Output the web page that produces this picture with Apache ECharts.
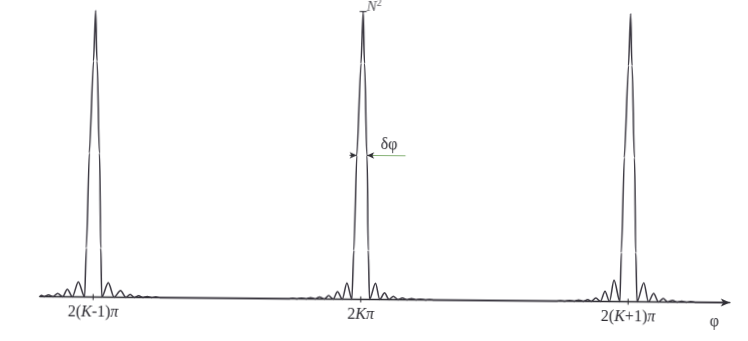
<!DOCTYPE html>
<html>
<head>
<meta charset="utf-8">
<script src="https://cdn.jsdelivr.net/npm/echarts@6/dist/echarts.min.js"></script>
<style>
  html, body { margin: 0; padding: 0; background: #ffffff; }
  #chart { width: 748px; height: 341px; transform: rotate(0.5deg); transform-origin: 50% 50%; }
</style>
</head>
<body>
<div id="chart"></div>
<script>
// Multi-slit interference intensity: phase phi measured in units of 2*pi from 2K*pi,
// intensity in units of the principal maximum N^2.
const tickPos = [-1, 0, 1];
const tickLabels = ['2(K-1)π', '2Kπ', '2(K+1)π'];

const leftPeak = [
  [-1.199, 0], [-1.193, 0.004], [-1.184, 0], [-1.167, 0.006], [-1.150, 0],
  [-1.133, 0.011], [-1.114, 0], [-1.097, 0.026], [-1.078, 0], [-1.056, 0.052],
  [-1.032, 0], [-1.027, 0.17], [-1.019, 0.5], [-1.0065, 0.82], [-1.0, 0.995],
  [-0.9935, 0.82], [-0.981, 0.5], [-0.973, 0.17], [-0.968, 0], [-0.944, 0.050],
  [-0.922, 0], [-0.898, 0.023], [-0.878, 0], [-0.862, 0.010], [-0.846, 0],
  [-0.830, 0.006], [-0.814, 0], [-0.798, 0.003], [-0.782, 0], [-0.766, 0.002],
  [-0.750, 0]
];

const centerPeak = [
  [-0.270, 0], [-0.254, 0.0015], [-0.237, 0], [-0.221, 0.0025], [-0.204, 0],
  [-0.187, 0.004], [-0.170, 0], [-0.154, 0.007], [-0.136, 0], [-0.120, 0.012],
  [-0.103, 0], [-0.087, 0.026], [-0.069, 0], [-0.052, 0.056], [-0.033, 0],
  [-0.027, 0.17], [-0.019, 0.5], [-0.0065, 0.82], [0, 1.0], [0.0065, 0.82],
  [0.019, 0.5], [0.027, 0.17], [0.033, 0], [0.055, 0.056], [0.071, 0],
  [0.089, 0.023], [0.106, 0], [0.122, 0.011], [0.139, 0], [0.156, 0.006],
  [0.173, 0], [0.190, 0.004], [0.207, 0], [0.224, 0.0025], [0.241, 0],
  [0.258, 0.0015], [0.275, 0]
];

const rightPeak = [
  [0.730, 0], [0.747, 0.0015], [0.764, 0], [0.781, 0.0025], [0.798, 0],
  [0.815, 0.004], [0.832, 0], [0.849, 0.006], [0.862, 0], [0.879, 0.012],
  [0.896, 0], [0.913, 0.035], [0.930, 0], [0.9465, 0.074], [0.969, 0],
  [0.973, 0.17], [0.981, 0.5], [0.9935, 0.82], [1.0, 1.0], [1.0065, 0.82],
  [1.019, 0.5], [1.027, 0.17], [1.033, 0], [1.058, 0.066], [1.0755, 0],
  [1.095, 0.029], [1.113, 0], [1.131, 0.012], [1.148, 0], [1.166, 0.006],
  [1.183, 0], [1.200, 0.003], [1.217, 0], [1.233, 0.002], [1.250, 0],
  [1.360, 0]
];

// half-maximum width marker around the central peak
const halfLevel = 0.5;
const halfWidthEdges = [-0.0195, 0.0195];

const serif = '"Liberation Serif", "DejaVu Serif", serif';
const ink = '#2e2d33';

function richLabel(s) {
  return s.replace(/K/g, '{i|K}').replace(/π/g, '{i|π}');
}

const chart = echarts.init(document.getElementById('chart'), null, { renderer: 'canvas' });

chart.setOption({
  backgroundColor: '#ffffff',
  animation: false,
  grid: { left: 40.8, right: 17.05, top: 11.6, bottom: 41.6 },
  xAxis: {
    type: 'value',
    min: -1.2,
    max: 1.38,
    splitLine: { show: false },
    axisTick: { show: false },
    axisLine: {
      onZero: false,
      lineStyle: { color: ink, width: 1.3 },
      symbol: ['none', 'arrow'],
      symbolSize: [6, 9]
    },
    axisLabel: {
      customValues: tickPos,
      margin: 7,
      color: ink,
      fontFamily: serif,
      fontSize: 16,
      formatter: function (v) {
        const i = tickPos.indexOf(v);
        return i >= 0 ? richLabel(tickLabels[i]) : '';
      },
      rich: {
        i: { fontFamily: serif, fontStyle: 'italic', fontSize: 16, color: ink }
      }
    }
  },
  yAxis: { type: 'value', min: 0, max: 1, show: false },
  graphic: [
    {
      type: 'text', left: 711, top: 311,
      style: { text: 'φ', font: '16px ' + serif, fill: ink }
    }
  ],
  series: [
    {
      type: 'line',
      data: leftPeak.concat(centerPeak, rightPeak),
      smooth: 0.3,
      smoothMonotone: 'x',
      showSymbol: false,
      clip: false,
      lineStyle: { color: '#3a3740', width: 1.5 },
      markLine: {
        silent: true,
        symbol: ['none', 'arrow'],
        symbolSize: [5, 7],
        lineStyle: { color: ink, width: 1.1, type: 'solid' },
        label: { show: false },
        data: [
          [ { coord: [-0.046, halfLevel] }, { coord: [halfWidthEdges[0], halfLevel] } ],
          [ { coord: [0.042, halfLevel] }, { coord: [halfWidthEdges[1], halfLevel] } ],
          [
            { coord: [0.040, halfLevel], symbol: 'none',
              lineStyle: { color: '#86b276', width: 1.1 },
              label: {
                show: true, formatter: 'δφ', position: 'insideMiddleTop', distance: 3,
                fontFamily: serif, fontSize: 16, color: ink
              } },
            { coord: [0.163, halfLevel], symbol: 'none' }
          ]
        ]
      }
    },
    {
      // tick marks crossing the axis at the principal maxima
      type: 'scatter',
      data: tickPos.map(function (v) { return [v, 0]; }),
      symbol: 'rect',
      symbolSize: [1.3, 6],
      itemStyle: { color: ink },
      silent: true,
      clip: false
    },
    {
      // N^2 level mark at the top of the central maximum
      type: 'scatter',
      data: [[0, 1]],
      symbol: 'rect',
      symbolSize: [7, 1.3],
      itemStyle: { color: ink },
      silent: true,
      clip: false,
      label: {
        show: true,
        position: 'right',
        distance: 0,
        offset: [0, -5],
        formatter: '{i|N}{s|2}',
        rich: {
          i: { fontFamily: serif, fontStyle: 'italic', fontSize: 15, color: ink },
          s: { fontFamily: serif, fontSize: 10, color: ink, verticalAlign: 'top', padding: [0, 0, 7, 0] }
        }
      }
    }
  ]
});
</script>
</body>
</html>
